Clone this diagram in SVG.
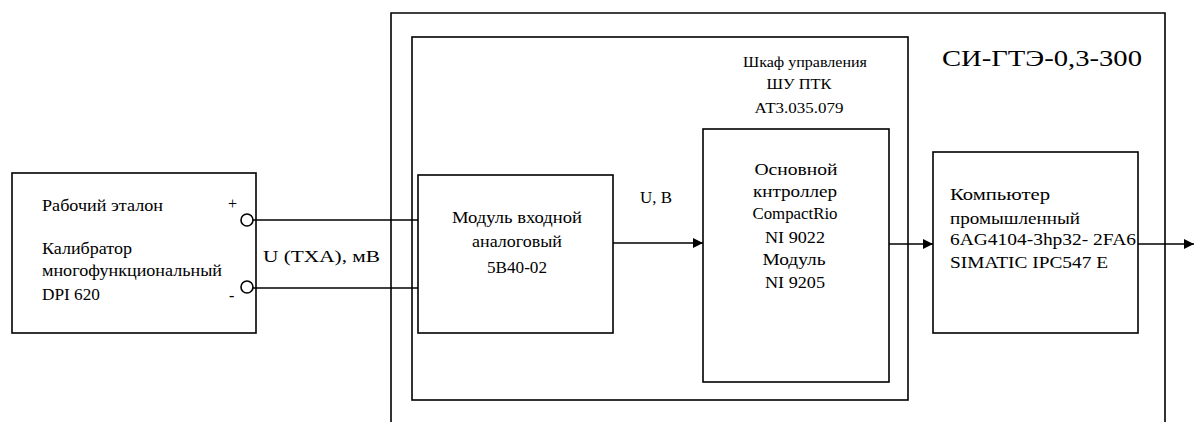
<svg xmlns="http://www.w3.org/2000/svg" width="1194" height="422" viewBox="0 0 1194 422">
<style>
.b{fill:none;stroke:#000;stroke-width:1.6}
.l{fill:none;stroke:#000;stroke-width:1.6}
text{font-family:"Liberation Serif","Times New Roman",serif;fill:#000;font-size:16px}
.m{text-anchor:middle}
.s{font-size:15px}
.t{font-size:24px}
.lb{font-size:17px}
</style>
<defs>
<marker id="ar" viewBox="0 0 10 10" refX="10" refY="5" markerWidth="10" markerHeight="10" markerUnits="userSpaceOnUse" orient="auto">
<path d="M0,0 L10,5 L0,10 Z" fill="#000"/>
</marker>
</defs>
<rect width="1194" height="422" fill="#fff"/>
<g id="system">
<path class="b" d="M391,422 V13 H1165 V422"/>
<text class="t" x="942" y="66" textLength="200" lengthAdjust="spacingAndGlyphs">СИ-ГТЭ-0,3-300</text>
</g>
<g id="cabinet">
<rect class="b" x="412" y="37" width="496" height="363"/>
<text class="s m" x="805" y="67" textLength="124" lengthAdjust="spacingAndGlyphs">Шкаф управления</text>
<text class="s m" x="799" y="89" textLength="65" lengthAdjust="spacingAndGlyphs">ШУ ПТК</text>
<text class="s m" x="799" y="113" textLength="89" lengthAdjust="spacingAndGlyphs">АТ3.035.079</text>
</g>
<g id="calibrator">
<rect class="b" x="12" y="173" width="244" height="160"/>
<text class="lb" x="42" y="211" textLength="121" lengthAdjust="spacingAndGlyphs">Рабочий эталон</text>
<text class="lb" x="42" y="254" textLength="90" lengthAdjust="spacingAndGlyphs">Калибратор</text>
<text class="lb" x="42" y="276" textLength="180" lengthAdjust="spacingAndGlyphs">многофункциональный</text>
<text class="lb" x="42" y="300" textLength="58" lengthAdjust="spacingAndGlyphs">DPI 620</text>
<text x="228" y="209" font-size="14">+</text>
<text x="229" y="301" font-size="16">-</text>
<circle class="b" cx="247" cy="220" r="6"/>
<circle class="b" cx="247" cy="287" r="6"/>
</g>
<g id="module">
<rect class="b" x="418" y="175" width="195" height="158"/>
<text class="lb m" x="517" y="223" textLength="130" lengthAdjust="spacingAndGlyphs">Модуль входной</text>
<text class="lb m" x="517" y="247" textLength="90" lengthAdjust="spacingAndGlyphs">аналоговый</text>
<text class="lb m" x="517" y="273" textLength="60" lengthAdjust="spacingAndGlyphs">5В40-02</text>
</g>
<g id="controller">
<rect class="b" x="703" y="129" width="186" height="253"/>
<text class="lb m" x="796" y="175" textLength="83" lengthAdjust="spacingAndGlyphs">Основной</text>
<text class="lb m" x="795" y="197" textLength="84" lengthAdjust="spacingAndGlyphs">кнтроллер</text>
<text class="lb m" x="795" y="219" textLength="85" lengthAdjust="spacingAndGlyphs">CompactRio</text>
<text class="lb m" x="795" y="243" textLength="60" lengthAdjust="spacingAndGlyphs">NI 9022</text>
<text class="lb m" x="794" y="265" textLength="63" lengthAdjust="spacingAndGlyphs">Модуль</text>
<text class="lb m" x="795" y="288" textLength="60" lengthAdjust="spacingAndGlyphs">NI 9205</text>
</g>
<g id="computer">
<rect class="b" x="933" y="152" width="205" height="181"/>
<text class="lb" x="950" y="200" textLength="100" lengthAdjust="spacingAndGlyphs">Компьютер</text>
<text class="lb" x="950" y="224" textLength="130" lengthAdjust="spacingAndGlyphs">промышленный</text>
<text class="lb" x="950" y="245" textLength="186" lengthAdjust="spacingAndGlyphs">6AG4104-3hp32- 2FA6</text>
<text class="lb" x="950" y="268" textLength="158" lengthAdjust="spacingAndGlyphs">SIMATIC IPC547 E</text>
</g>
<g id="connectors">
<line class="l" x1="253" y1="220" x2="418" y2="220"/>
<line class="l" x1="253" y1="288" x2="418" y2="288"/>
<text class="lb" x="263" y="262" textLength="117" lengthAdjust="spacingAndGlyphs">U (ТХА), мВ</text>
<line class="l" x1="613" y1="243" x2="703" y2="243" marker-end="url(#ar)"/>
<text class="lb" x="640" y="203" textLength="32" lengthAdjust="spacingAndGlyphs">U, B</text>
<line class="l" x1="889" y1="244" x2="933" y2="244" marker-end="url(#ar)"/>
<line class="l" x1="1138" y1="244" x2="1194" y2="244" marker-end="url(#ar)"/>
</g>
</svg>
